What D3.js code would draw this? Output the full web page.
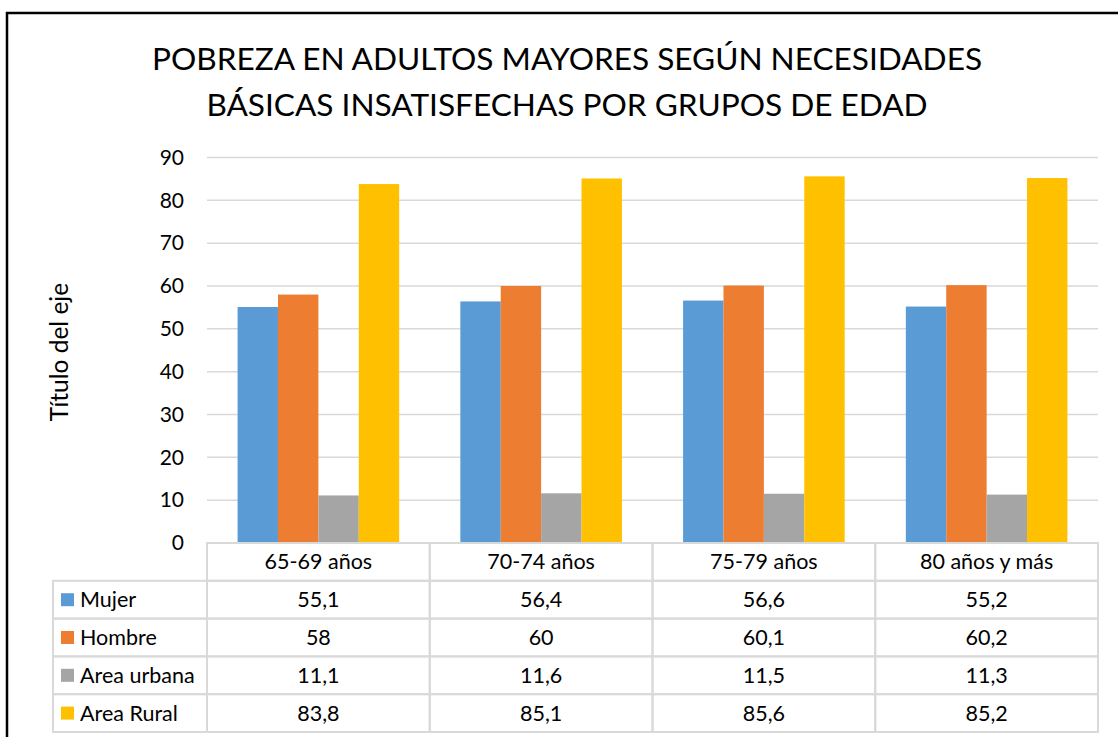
<!DOCTYPE html>
<html>
<head>
<meta charset="utf-8">
<script src="https://cdn.jsdelivr.net/npm/d3@7"></script>
<style>
  body { margin: 0; background: #fff; }
  text { font-family: Lato, "Open Sans", sans-serif; fill: #000; }
</style>
</head>
<body>
<div id="vis"></div>
<script>
const WIDTH = 1118;
const HEIGHT = 737;
const MARGINS = {left: 207, right: 20, top: 157, bottom: 194};

const categories = ["65-69 años", "70-74 años", "75-79 años", "80 años y más"];
const seriesNames = ["Mujer", "Hombre", "Area urbana", "Area Rural"];
const mujer = [55.1, 56.4, 56.6, 55.2];
const hombre = [58, 60, 60.1, 60.2];
const urbana = [11.1, 11.6, 11.5, 11.3];
const rural = [83.8, 85.1, 85.6, 85.2];
const yTicks = [0, 10, 20, 30, 40, 50, 60, 70, 80, 90];
const colors = ["#5B9BD5", "#ED7D31", "#A5A5A5", "#FFC000"];

const series = [mujer, hombre, urbana, rural];

const svg = d3.select("#vis")
  .append("svg")
    .attr("width", WIDTH)
    .attr("height", HEIGHT);

// outer frame of the chart
svg.append("rect")
  .attr("x", 7).attr("y", 13)
  .attr("width", 1300).attr("height", 900)
  .attr("fill", "none")
  .attr("stroke", "#000")
  .attr("stroke-width", 2.5);

// title
const title = svg.append("text")
  .attr("text-anchor", "middle")
  .attr("font-size", 31.6);
title.append("tspan").attr("x", 567).attr("y", 70)
  .text("POBREZA EN ADULTOS MAYORES SEGÚN NECESIDADES");
title.append("tspan").attr("x", 567).attr("y", 116)
  .text("BÁSICAS INSATISFECHAS POR GRUPOS DE EDAD");

const x = d3.scaleBand()
  .domain(categories)
  .range([207, 1098]);

const xs = d3.scaleBand()
  .domain(seriesNames)
  .range([0, x.bandwidth()])
  .paddingOuter(0.757);

const y = d3.scaleLinear()
  .domain([0, 90])
  .range([543, 157.5]);

// gridlines
svg.append("g")
  .selectAll("line")
  .data(yTicks)
  .join("line")
    .attr("x1", 207).attr("x2", 1098)
    .attr("y1", d => y(d)).attr("y2", d => y(d))
    .attr("stroke", "#d9d9d9")
    .attr("stroke-width", 1.5);

// y axis labels
const yAxis = svg.append("g")
  .attr("transform", "translate(207,0)")
  .call(d3.axisLeft(y).tickValues(yTicks).tickSize(0).tickPadding(23));
yAxis.select(".domain").remove();
yAxis.selectAll("text")
  .attr("font-size", 21)
  .attr("font-family", "Lato, sans-serif")
  .attr("fill", "#000");

// y axis title
svg.append("text")
  .attr("transform", "translate(68,352) rotate(-90)")
  .attr("text-anchor", "middle")
  .attr("font-size", 24.5)
  .text("Título del eje");

// bars
svg.append("g")
  .selectAll("g")
  .data(series)
  .join("g")
    .attr("fill", (d, i) => colors[i])
    .each(function(vals, i) {
      d3.select(this).selectAll("rect")
        .data(vals)
        .join("rect")
          .attr("x", (d, j) => x(categories[j]) + xs(seriesNames[i]))
          .attr("width", xs.bandwidth())
          .attr("y", d => y(d))
          .attr("height", d => y(0) - y(d));
    });

// data table under the chart
const rowH = 37.8;
const tableTop = 543;
const lineColor = "#d9d9d9";
const fs = 21.5;
const table = svg.append("g");

// header row
table.selectAll(".hcell")
  .data(categories)
  .join("rect")
    .attr("x", d => x(d)).attr("y", tableTop)
    .attr("width", x.bandwidth()).attr("height", rowH)
    .attr("fill", "none").attr("stroke", lineColor).attr("stroke-width", 2);
table.selectAll(".htext")
  .data(categories)
  .join("text")
    .attr("x", d => x(d) + x.bandwidth() / 2)
    .attr("y", tableTop + rowH / 2 + 7.5)
    .attr("text-anchor", "middle")
    .attr("font-size", fs)
    .text(d => d);

// data rows
seriesNames.forEach((name, i) => {
  const ry = tableTop + rowH * (i + 1);
  table.append("rect")
    .attr("x", 53).attr("y", ry)
    .attr("width", 207 - 53).attr("height", rowH)
    .attr("fill", "none").attr("stroke", lineColor).attr("stroke-width", 2);
  table.append("rect")
    .attr("x", 61).attr("y", ry + rowH / 2 - 6.5)
    .attr("width", 13).attr("height", 13)
    .attr("fill", colors[i]);
  table.append("text")
    .attr("x", 80).attr("y", ry + rowH / 2 + 7.5)
    .attr("font-size", fs)
    .text(name);
  categories.forEach((c, j) => {
    table.append("rect")
      .attr("x", x(c)).attr("y", ry)
      .attr("width", x.bandwidth()).attr("height", rowH)
      .attr("fill", "none").attr("stroke", lineColor).attr("stroke-width", 2);
    table.append("text")
      .attr("x", x(c) + x.bandwidth() / 2)
      .attr("y", ry + rowH / 2 + 7.5)
      .attr("text-anchor", "middle")
      .attr("font-size", fs)
      .text(String(series[i][j]).replace(".", ","));
  });
});
</script>
</body>
</html>
